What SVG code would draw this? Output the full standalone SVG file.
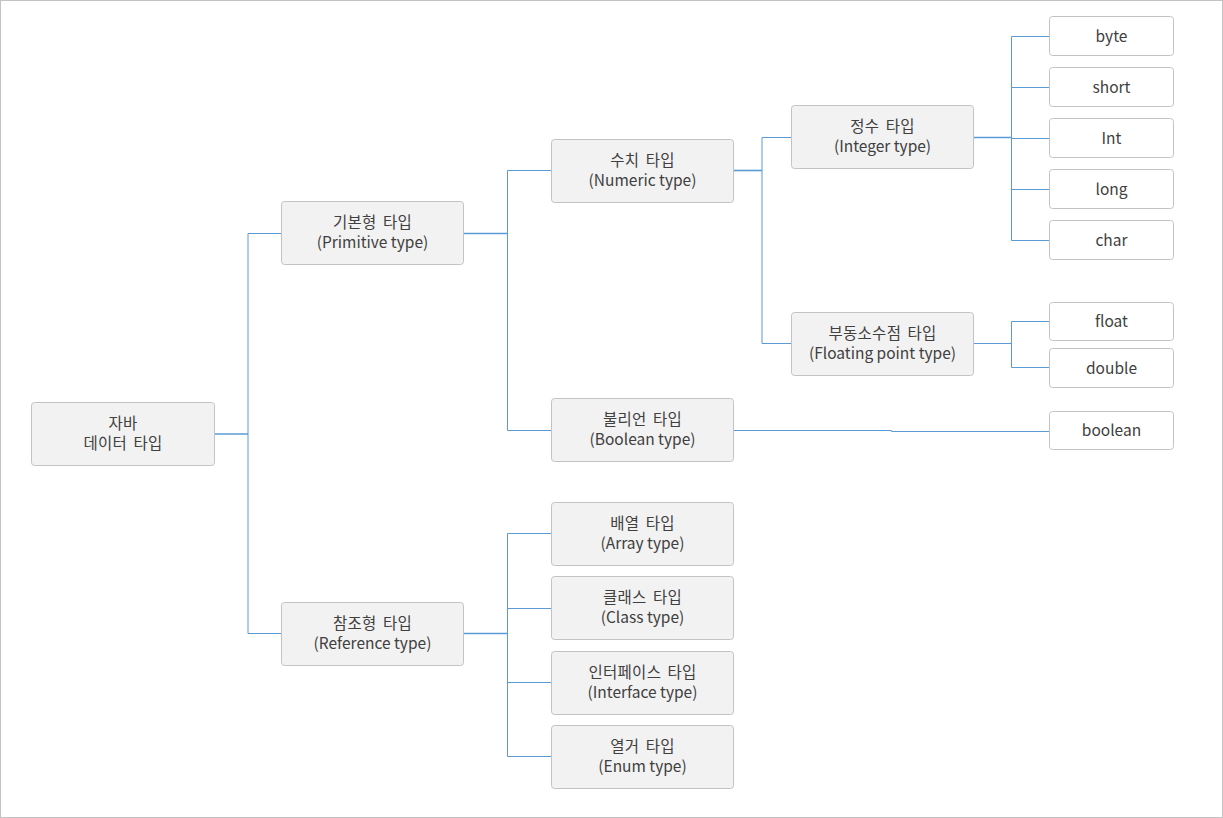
<svg xmlns="http://www.w3.org/2000/svg" width="1223" height="818" viewBox="0 0 1223 818">
<style>
.n{fill:#f2f2f2;stroke:#c3c3c3;stroke-width:1}
.l{fill:#ffffff;stroke:#c3c3c3;stroke-width:1}
text{font-family:"Noto Sans CJK KR","Noto Sans",sans-serif;font-size:15.5px;fill:#404040;text-anchor:middle}
.k{font-size:15.5px;word-spacing:2.5px;letter-spacing:0.3px}
.c path{fill:none;stroke:#5b9bd5;stroke-width:1}
.c .t{stroke-width:1.6}
</style>
<rect x="0.5" y="0.5" width="1222" height="817" fill="#ffffff" stroke="#c3c3c3"/>
<g class="c" id="connectors">
<path class="t" d="M214.5 434 H248"/>
<path d="M248 233.5 V633.5 M248 233.5 H281.5 M248 633.5 H281.5"/>
<path class="t" d="M463.5 233.5 H507.5"/>
<path d="M507.5 170.5 V430.5 M507.5 170.5 H551.5 M507.5 430.5 H551.5"/>
<path class="t" d="M463.5 633.5 H507.5"/>
<path d="M507.5 533.5 V756.5 M507.5 533.5 H551.5 M507.5 608.5 H551.5 M507.5 682.5 H551.5 M507.5 756.5 H551.5"/>
<path class="t" d="M733.5 170.5 H762"/>
<path d="M762 137.5 V343.5 M762 137.5 H791.5 M762 343.5 H791.5"/>
<path d="M733.5 430.5 H891.5 V431.5 H1049.5"/>
<path class="t" d="M973.5 137.5 H1011.5"/>
<path d="M1011.5 36.5 V240.5 M1011.5 36.5 H1049.5 M1011.5 87.5 H1049.5 M1011.5 138.5 H1049.5 M1011.5 189.5 H1049.5 M1011.5 240.5 H1049.5"/>
<path d="M973.5 343.5 H1011.5 M1011.5 321.5 V367.5 M1011.5 321.5 H1049.5 M1011.5 367.5 H1049.5"/>
</g>
<g id="root"><rect class="n" x="31.5" y="402.5" width="183" height="63" rx="3"/><text x="123" y="429"><tspan class="k">자바</tspan><tspan class="k" x="123" dy="20">데이터 타입</tspan></text></g>
<g id="primitive"><rect class="n" x="281.5" y="201.5" width="182" height="63" rx="3"/><text x="372.5" y="228"><tspan class="k">기본형 타입</tspan><tspan x="372.5" dy="20">(Primitive type)</tspan></text></g>
<g id="reference"><rect class="n" x="281.5" y="602.5" width="182" height="63" rx="3"/><text x="372.5" y="629"><tspan class="k">참조형 타입</tspan><tspan x="372.5" dy="20">(Reference type)</tspan></text></g>
<g id="numeric"><rect class="n" x="551.5" y="139.5" width="182" height="63" rx="3"/><text x="642.5" y="166"><tspan class="k">수치 타입</tspan><tspan x="642.5" dy="20">(Numeric type)</tspan></text></g>
<g id="boolean-type"><rect class="n" x="551.5" y="398.5" width="182" height="63" rx="3"/><text x="642.5" y="425"><tspan class="k">불리언 타입</tspan><tspan x="642.5" dy="20">(Boolean type)</tspan></text></g>
<g id="array"><rect class="n" x="551.5" y="502.5" width="182" height="63" rx="3"/><text x="642.5" y="529"><tspan class="k">배열 타입</tspan><tspan x="642.5" dy="20">(Array type)</tspan></text></g>
<g id="class"><rect class="n" x="551.5" y="576.5" width="182" height="63" rx="3"/><text x="642.5" y="603"><tspan class="k">클래스 타입</tspan><tspan x="642.5" dy="20">(Class type)</tspan></text></g>
<g id="interface"><rect class="n" x="551.5" y="651.5" width="182" height="63" rx="3"/><text x="642.5" y="678"><tspan class="k">인터페이스 타입</tspan><tspan x="642.5" dy="20">(Interface type)</tspan></text></g>
<g id="enum"><rect class="n" x="551.5" y="725.5" width="182" height="63" rx="3"/><text x="642.5" y="752"><tspan class="k">열거 타입</tspan><tspan x="642.5" dy="20">(Enum type)</tspan></text></g>
<g id="integer"><rect class="n" x="791.5" y="105.5" width="182" height="63" rx="3"/><text x="882.5" y="132"><tspan class="k">정수 타입</tspan><tspan x="882.5" dy="20">(Integer type)</tspan></text></g>
<g id="floating"><rect class="n" x="791.5" y="312.5" width="182" height="63" rx="3"/><text x="882.5" y="339"><tspan class="k">부동소수점 타입</tspan><tspan x="882.5" dy="20">(Floating point type)</tspan></text></g>
<g id="byte"><rect class="l" x="1049.5" y="16.5" width="124" height="39" rx="3"/><text x="1111.5" y="41.5">byte</text></g>
<g id="short"><rect class="l" x="1049.5" y="67.5" width="124" height="39" rx="3"/><text x="1111.5" y="92.5">short</text></g>
<g id="int"><rect class="l" x="1049.5" y="118.5" width="124" height="39" rx="3"/><text x="1111.5" y="143.5">Int</text></g>
<g id="long"><rect class="l" x="1049.5" y="169.5" width="124" height="39" rx="3"/><text x="1111.5" y="194.5">long</text></g>
<g id="char"><rect class="l" x="1049.5" y="220.5" width="124" height="39" rx="3"/><text x="1111.5" y="245.5">char</text></g>
<g id="float"><rect class="l" x="1049.5" y="302.5" width="124" height="38" rx="3"/><text x="1111.5" y="327">float</text></g>
<g id="double"><rect class="l" x="1049.5" y="348.5" width="124" height="39" rx="3"/><text x="1111.5" y="373.5">double</text></g>
<g id="boolean"><rect class="l" x="1049.5" y="411.5" width="124" height="38" rx="3"/><text x="1111.5" y="436">boolean</text></g>
</svg>
